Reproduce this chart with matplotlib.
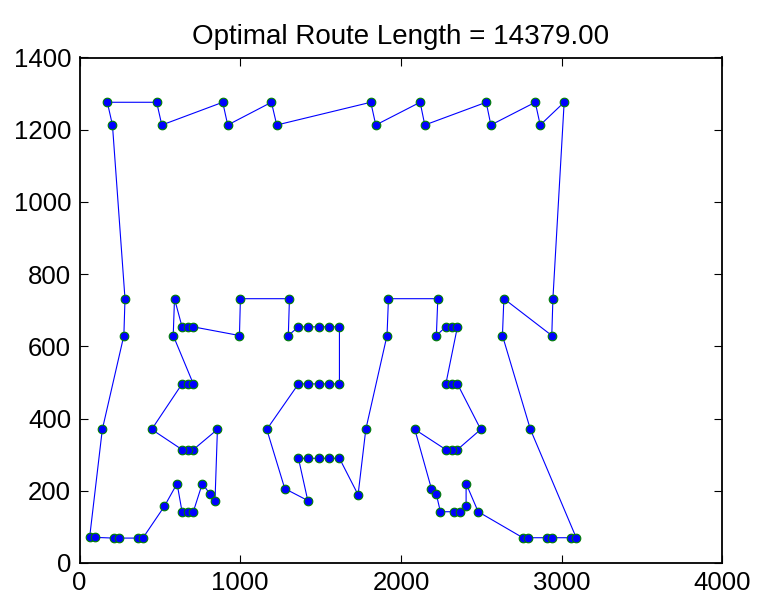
import matplotlib
matplotlib.use("Agg")
import matplotlib.pyplot as plt
import numpy as np

# Tour order (closed route), coordinates
route_x = [3015, 2866, 2835, 2559, 2530, 2148, 2119, 1843, 1812, 1227, 1194, 922, 891,
           512, 480, 173, 205, 283, 276, 142, 63, 94, 213, 244, 362, 394, 528, 607,
           638, 674, 708, 764, 812, 843, 858, 708, 674, 638, 449, 638, 674, 708, 583,
           591, 638, 674, 708, 995, 1001, 1306, 1299, 1362, 1424, 1488, 1552, 1617,
           1617, 1552, 1488, 1424, 1362, 1165, 1277, 1420, 1362, 1424, 1488, 1552,
           1617, 1733, 1781, 1913, 1922, 2229, 2220, 2279, 2316, 2351, 2279, 2316,
           2351, 2496, 2351, 2316, 2279, 2086, 2189, 2220, 2245, 2332, 2368, 2405,
           2405, 2480, 2758, 2789, 2907, 2938, 3058, 3090, 2805, 2631, 2640, 2938,
           2945]
route_y = [1276, 1213, 1276, 1213, 1276, 1213, 1276, 1213, 1276, 1213, 1276, 1213, 1276,
           1213, 1276, 1276, 1213, 732, 630, 370, 71, 71, 69, 69, 69, 69, 157, 220,
           142, 142, 142, 220, 191, 173, 370, 314, 314, 314, 370, 496, 496, 496, 630,
           732, 654, 654, 654, 630, 732, 732, 630, 654, 654, 654, 654, 654,
           496, 496, 496, 496, 496, 370, 206, 173, 290, 290, 290, 290,
           290, 189, 370, 630, 732, 732, 630, 654, 654, 654, 496, 496,
           496, 370, 314, 314, 314, 370, 206, 190, 142, 142, 142, 157,
           220, 142, 70, 70, 70, 70, 70, 70, 370, 630, 732, 630,
           732]

route_length = 14379.00
x_ticks = [0, 1000, 2000, 3000, 4000]
y_ticks = [0, 200, 400, 600, 800, 1000, 1200, 1400]

plt.rcParams['font.family'] = ['Liberation Sans', 'DejaVu Sans']

fig = plt.figure(figsize=(7.57, 6.0), dpi=100)
ax = fig.add_axes([79.5 / 757, 1 - 563 / 600, (722.5 - 79.5) / 757, (563 - 57.5) / 600])

xs = route_x + [route_x[0]]
ys = route_y + [route_y[0]]
ax.plot(xs, ys, '-', color='#0000ff', linewidth=0.8, zorder=2)
ax.plot(route_x, route_y, 'o', markerfacecolor='#0000ff', markeredgecolor='#008000',
        markersize=6.2, markeredgewidth=0.8, linestyle='none', zorder=3)

ax.set_xlim(0, 4000)
ax.set_ylim(0, 1400)
ax.set_xticks(x_ticks)
ax.set_yticks(y_ticks)
ax.set_xticklabels([str(t) for t in x_ticks])
ax.set_yticklabels([str(t) for t in y_ticks])
ax.tick_params(direction='in', length=6, width=0.8, top=True, right=True,
               labelsize=18.5, pad=6)
for s in ax.spines.values():
    s.set_linewidth(1.3)
ax.set_title('Optimal Route Length = %.2f' % route_length, fontsize=20, pad=10)

fig.savefig('out.png', dpi=100)
